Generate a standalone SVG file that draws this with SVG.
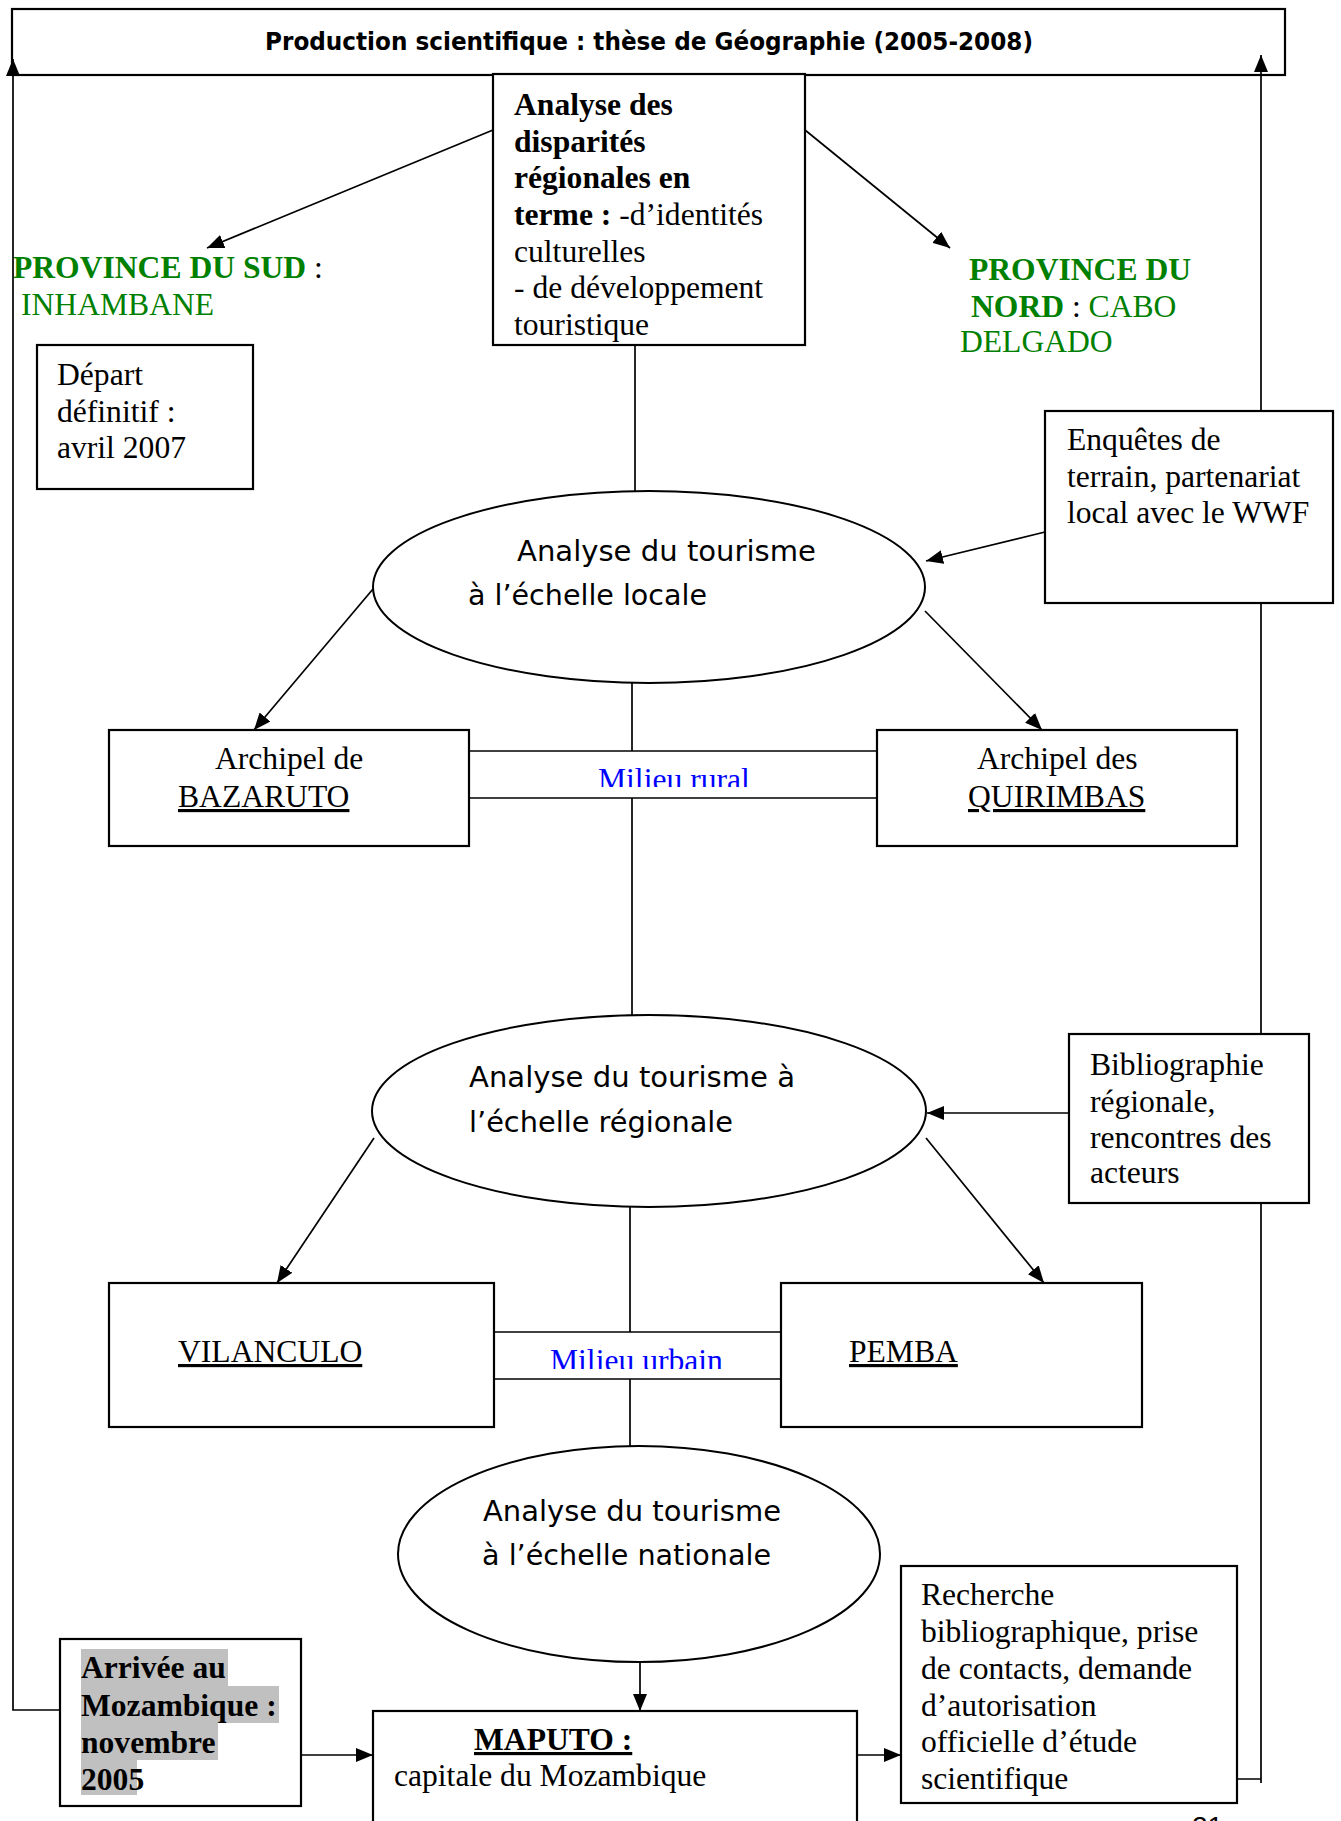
<svg xmlns="http://www.w3.org/2000/svg" width="1341" height="1821" viewBox="0 0 1341 1821">
<style>
.box{fill:#fff;stroke:#000;stroke-width:2.2}
.ell{fill:#fff;stroke:#000;stroke-width:2}
.ln{fill:none;stroke:#000;stroke-width:1.7}
.t{font-family:"Liberation Serif","Times New Roman",serif;font-size:31.6px;fill:#000}
.b{font-weight:bold}
.g{fill:#008000}
.blue{fill:#0000ff}
.u{text-decoration:underline}
.c{font-family:"DejaVu Sans","Noto Sans",sans-serif;font-size:29px;fill:#000}
.title{font-family:"DejaVu Sans","Noto Sans",sans-serif;font-size:25px;font-weight:bold;fill:#000}
</style>
<defs>
<marker id="ah" markerUnits="userSpaceOnUse" markerWidth="18" markerHeight="14" refX="17" refY="7" orient="auto">
<path d="M0,0 L17,7 L0,14 z" fill="#000"/>
</marker>
<clipPath id="clipCenter"><rect x="493" y="74" width="312" height="270"/></clipPath>
<clipPath id="clipRural"><rect x="469" y="752" width="408" height="35"/></clipPath>
<clipPath id="clipUrbain"><rect x="494" y="1333" width="287" height="36"/></clipPath>
<clipPath id="clipRech"><rect x="901" y="1566" width="336" height="236"/></clipPath>
</defs>

<g id="title">
<rect class="box" x="12" y="9" width="1273" height="66"/>
<text class="title" x="265" y="50" textLength="768" lengthAdjust="spacingAndGlyphs">Production scientifique : thèse de Géographie (2005-2008)</text>
</g>

<g id="disparites">
<rect class="box" x="493" y="74" width="312" height="271"/>
<g clip-path="url(#clipCenter)">
<text class="t b" x="514" y="115">Analyse des</text>
<text class="t b" x="514" y="152">disparités</text>
<text class="t b" x="514" y="188">régionales en</text>
<text class="t" x="514" y="225"><tspan class="b">terme :</tspan> -d’identités</text>
<text class="t" x="514" y="262">culturelles</text>
<text class="t" x="514" y="298">- de développement</text>
<text class="t" x="514" y="335">touristique</text>
</g>
</g>

<g id="province-sud">
<text class="t" x="13" y="278"><tspan class="b g">PROVINCE DU SUD</tspan> :</text>
<text class="t g" x="21" y="315">INHAMBANE</text>
</g>

<g id="province-nord">
<text class="t b g" x="969" y="280">PROVINCE DU</text>
<text class="t" x="971" y="317"><tspan class="b g">NORD</tspan> : <tspan class="g">CABO</tspan></text>
<text class="t g" x="960" y="352">DELGADO</text>
</g>

<g id="depart">
<rect class="box" x="37" y="345" width="216" height="144"/>
<text class="t" x="57" y="385">Départ</text>
<text class="t" x="57" y="422">définitif :</text>
<text class="t" x="57" y="458">avril 2007</text>
</g>

<g id="enquetes">
<rect class="box" x="1045" y="411" width="288" height="192"/>
<text class="t" x="1067" y="450">Enquêtes de</text>
<text class="t" x="1067" y="487">terrain, partenariat</text>
<text class="t" x="1067" y="523">local avec le WWF</text>
</g>

<g id="echelle-locale">
<ellipse class="ell" cx="649" cy="587" rx="276" ry="96"/>
<text class="c" x="517" y="561" textLength="299" lengthAdjust="spacingAndGlyphs">Analyse du tourisme</text>
<text class="c" x="468" y="605" textLength="239" lengthAdjust="spacingAndGlyphs">à l’échelle locale</text>
</g>

<g id="milieu-rural">
<line class="ln" x1="469" y1="751" x2="877" y2="751"/>
<line class="ln" x1="469" y1="798" x2="877" y2="798"/>
<text class="t blue" x="598" y="790" clip-path="url(#clipRural)">Milieu rural</text>
</g>

<g id="bazaruto">
<rect class="box" x="109" y="730" width="360" height="116"/>
<text class="t" x="215" y="769">Archipel de</text>
<text class="t u" x="178" y="807">BAZARUTO</text>
</g>

<g id="quirimbas">
<rect class="box" x="877" y="730" width="360" height="116"/>
<text class="t" x="977" y="769">Archipel des</text>
<text class="t u" x="968" y="807">QUIRIMBAS</text>
</g>

<g id="echelle-regionale">
<ellipse class="ell" cx="649" cy="1111" rx="277" ry="96"/>
<text class="c" x="469" y="1087" textLength="326" lengthAdjust="spacingAndGlyphs">Analyse du tourisme à</text>
<text class="c" x="469" y="1132" textLength="264" lengthAdjust="spacingAndGlyphs">l’échelle régionale</text>
</g>

<g id="bibliographie">
<rect class="box" x="1069" y="1034" width="240" height="169"/>
<text class="t" x="1090" y="1075">Bibliographie</text>
<text class="t" x="1090" y="1112">régionale,</text>
<text class="t" x="1090" y="1148">rencontres des</text>
<text class="t" x="1090" y="1183">acteurs</text>
</g>

<g id="milieu-urbain">
<line class="ln" x1="494" y1="1332" x2="781" y2="1332"/>
<line class="ln" x1="494" y1="1379" x2="781" y2="1379"/>
<text class="t blue" x="550" y="1371" clip-path="url(#clipUrbain)">Milieu urbain</text>
</g>

<g id="vilanculo">
<rect class="box" x="109" y="1283" width="385" height="144"/>
<text class="t u" x="178" y="1362">VILANCULO</text>
</g>

<g id="pemba">
<rect class="box" x="781" y="1283" width="361" height="144"/>
<text class="t u" x="849" y="1362">PEMBA</text>
</g>

<g id="echelle-nationale">
<ellipse class="ell" cx="639" cy="1554" rx="241" ry="108"/>
<text class="c" x="483" y="1521" textLength="298" lengthAdjust="spacingAndGlyphs">Analyse du tourisme</text>
<text class="c" x="482" y="1565" textLength="289" lengthAdjust="spacingAndGlyphs">à l’échelle nationale</text>
</g>

<g id="arrivee">
<rect class="box" x="60" y="1639" width="241" height="167"/>
<g fill="#c0c0c0">
<rect x="81" y="1649" width="147" height="37"/>
<rect x="81" y="1686" width="198" height="37"/>
<rect x="81" y="1723" width="137" height="37"/>
<rect x="81" y="1760" width="56" height="35"/>
</g>
<text class="t b" x="81" y="1678">Arrivée au</text>
<text class="t b" x="81" y="1716">Mozambique :</text>
<text class="t b" x="81" y="1753">novembre</text>
<text class="t b" x="81" y="1790">2005</text>
</g>

<g id="maputo">
<rect class="box" x="373" y="1711" width="484" height="130"/>
<text class="t b u" x="474" y="1750">MAPUTO :</text>
<text class="t" x="394" y="1786">capitale du Mozambique</text>
</g>

<g id="recherche">
<rect class="box" x="901" y="1566" width="336" height="237"/>
<g clip-path="url(#clipRech)">
<text class="t" x="921" y="1605">Recherche</text>
<text class="t" x="921" y="1642">bibliographique, prise</text>
<text class="t" x="921" y="1679">de contacts, demande</text>
<text class="t" x="921" y="1716">d’autorisation</text>
<text class="t" x="921" y="1752">officielle d’étude</text>
<text class="t" x="921" y="1789">scientifique</text>
</g>
</g>

<g id="page-number">
<text x="1192" y="1836" font-family="Liberation Sans, Arial, sans-serif" font-size="28" fill="#000">21</text>
</g>

<g id="connectors">
<line class="ln" x1="493" y1="130" x2="207" y2="248" marker-end="url(#ah)"/>
<line class="ln" x1="805" y1="130" x2="950" y2="248" marker-end="url(#ah)"/>
<line class="ln" x1="635" y1="345" x2="635" y2="491"/>
<line class="ln" x1="1045" y1="532" x2="926" y2="561" marker-end="url(#ah)"/>
<line class="ln" x1="373" y1="589" x2="254" y2="730" marker-end="url(#ah)"/>
<line class="ln" x1="925" y1="611" x2="1042" y2="730" marker-end="url(#ah)"/>
<line class="ln" x1="632" y1="683" x2="632" y2="751"/>
<line class="ln" x1="632" y1="798" x2="632" y2="1015"/>
<line class="ln" x1="1069" y1="1113" x2="927" y2="1113" marker-end="url(#ah)"/>
<line class="ln" x1="374" y1="1138" x2="277" y2="1283" marker-end="url(#ah)"/>
<line class="ln" x1="926" y1="1138" x2="1044" y2="1283" marker-end="url(#ah)"/>
<line class="ln" x1="630" y1="1207" x2="630" y2="1332"/>
<line class="ln" x1="630" y1="1379" x2="630" y2="1446"/>
<line class="ln" x1="640" y1="1662" x2="640" y2="1711" marker-end="url(#ah)"/>
<line class="ln" x1="301" y1="1755" x2="373" y2="1755" marker-end="url(#ah)"/>
<line class="ln" x1="857" y1="1755" x2="901" y2="1755" marker-end="url(#ah)"/>
<path class="ln" d="M60,1710 H13 V59" marker-end="url(#ah)"/>
<path class="ln" d="M1237,1779 H1261 M1261,1783 V1203 M1261,1034 V603 M1261,411 V55" marker-end="url(#ah)"/>
</g>
</svg>
